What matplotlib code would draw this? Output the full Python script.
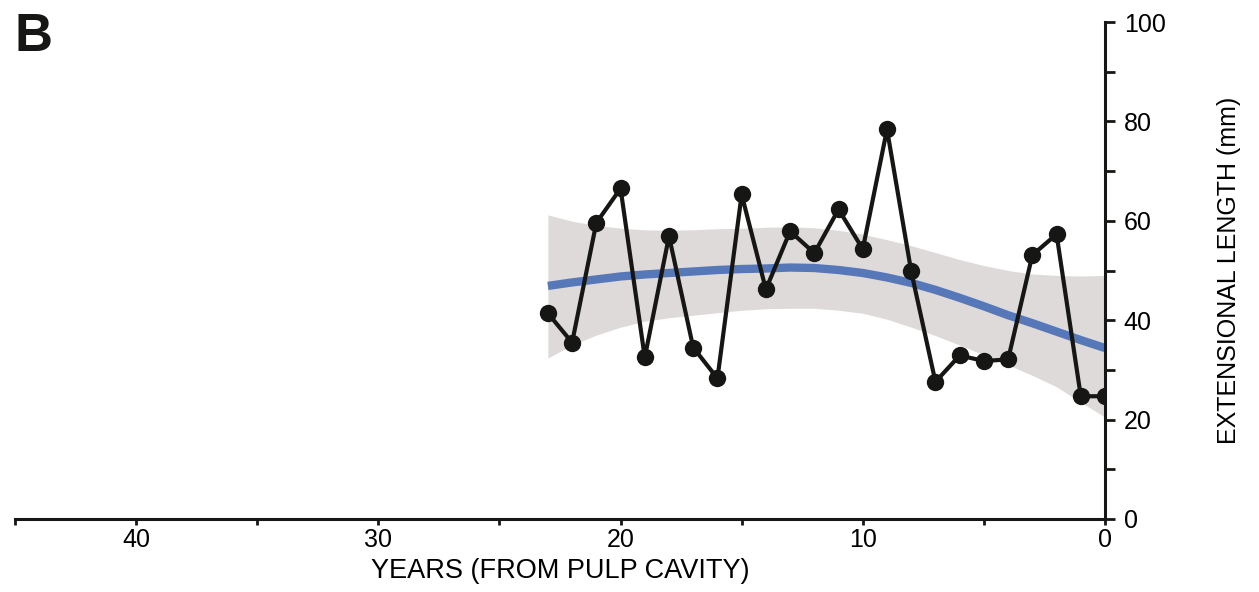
import matplotlib
matplotlib.use("Agg")
import matplotlib.pyplot as plt
from matplotlib.ticker import MultipleLocator

plt.rcParams['font.family'] = ['Liberation Sans', 'DejaVu Sans']

# Annual extension (mm), counted back from the pulp cavity
years = [23, 22, 21, 20, 19, 18, 17, 16, 15, 14, 13, 12,
         11, 10, 9, 8, 7, 6, 5, 4, 3, 2, 1, 0]
length_mm = [41.4, 35.5, 59.6, 66.5, 32.5, 56.9, 34.5, 28.3, 65.3, 46.2, 57.9, 53.5,
             62.3, 54.3, 78.4, 49.8, 27.6, 32.9, 31.8, 32.1, 53.1, 57.3, 24.7, 24.7]

# Smoothed trend with its confidence band
trend_mm = [46.9, 47.6, 48.2, 48.8, 49.2, 49.5, 49.8, 50.1, 50.3, 50.4, 50.6, 50.5,
            50.1, 49.5, 48.6, 47.5, 46.1, 44.5, 42.8, 41.0, 39.4, 37.7, 36.0, 34.4]
band_upper = [61.2, 59.9, 59.1, 58.5, 58.2, 58.1, 58.2, 58.4, 58.5, 58.7, 58.8, 58.6,
              58.1, 57.3, 56.2, 55.0, 53.6, 52.2, 51.0, 50.0, 49.3, 49.0, 48.9, 49.0]
band_lower = [32.4, 35.0, 37.0, 38.6, 39.8, 40.5, 41.0, 41.5, 42.0, 42.3, 42.4, 42.4,
              42.0, 41.4, 40.2, 38.6, 36.9, 35.0, 33.0, 31.0, 28.9, 26.6, 23.5, 20.5]

x_major = [40, 30, 20, 10, 0]
y_major = [0, 20, 40, 60, 80, 100]

fig = plt.figure(figsize=(12.59, 5.92), dpi=100)
ax = fig.add_axes([15 / 1259, 73 / 592, 1090 / 1259, 497 / 592])

ax.fill_between(years, band_lower, band_upper, color='#dedad9', lw=0, zorder=1)
ax.plot(years, trend_mm, color='#5678b8', lw=6, solid_capstyle='butt', zorder=2)
ax.plot(years, length_mm, color='#161614', lw=3, marker='o', markersize=12.5,
        markeredgewidth=0, zorder=3)

ax.set_xlim(45, 0)
ax.set_ylim(0, 100)

for side in ('left', 'top'):
    ax.spines[side].set_visible(False)
for side in ('right', 'bottom'):
    ax.spines[side].set_linewidth(2.2)
    ax.spines[side].set_color('#161614')

ax.yaxis.tick_right()
ax.yaxis.set_label_position('right')
ax.set_xticks(x_major)
ax.set_xticklabels([str(v) for v in x_major])
ax.set_yticks(y_major)
ax.set_yticklabels([str(v) for v in y_major])
ax.xaxis.set_minor_locator(MultipleLocator(5))
ax.yaxis.set_minor_locator(MultipleLocator(10))

ax.tick_params(axis='x', which='both', direction='out', length=4.5, width=2,
               color='#161614', labelsize=18, pad=2)
ax.tick_params(axis='y', which='both', direction='out', length=7, width=2,
               color='#161614', labelsize=18, pad=6.5)

ax.set_xlabel('YEARS (FROM PULP CAVITY)', fontsize=19.5)
ax.xaxis.set_label_coords(0.5, -0.104)
ax.xaxis.label.set_va('center')

ax.set_ylabel('EXTENSIONAL LENGTH (mm)', fontsize=18, rotation=90)
ax.yaxis.set_label_coords(1.1135, 0.5)
ax.yaxis.label.set_va('center')
ax.yaxis.label.set_ha('center')

fig.text(15 / 1259, 1 - 12 / 592, 'B', fontsize=38, fontweight='bold',
         ha='left', va='top', color='#161614')

fig.savefig('out.png', dpi=100, facecolor='white')
